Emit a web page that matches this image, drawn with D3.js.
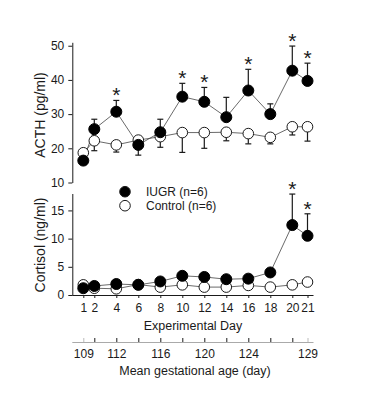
<!DOCTYPE html>
<html><head><meta charset="utf-8">
<script src="https://cdn.jsdelivr.net/npm/d3@7"></script>
<style>
body{margin:0;background:#fff;}
svg{font-family:"Liberation Sans",Arial,sans-serif;}
</style></head>
<body><svg id="c" width="368" height="403"></svg>
<script>
const days = [1,2,4,6,8,10,12,14,16,18,20,21];
const acthIUGR    = [16.4,25.6,30.7,21.0,24.7,35.1,33.6,29.1,36.9,30.0,42.7,39.7];
const acthIUGRerr = [0,2.9,3.3,-3.0,3.8,3.9,4.2,5.8,6.2,3.0,7.2,5.2];
const acthCtrl    = [18.7,22.2,21.0,22.4,23.4,24.6,24.6,24.7,24.3,23.2,26.3,26.3];
const acthCtrlErr = [0,-2.9,-2.1,0,-3.1,-5.8,-4.6,-2.5,-3.0,-1.9,-2.4,-4.2];
const cortIUGR    = [1.2,1.6,1.95,1.8,2.4,3.4,3.2,2.8,2.9,4.0,12.4,10.5];
const cortIUGRerr = [0,0,0,0,0,0,0,0,0,0,5.5,3.9];
const cortCtrl    = [1.8,1.2,1.1,1.85,1.4,1.8,1.4,1.4,1.7,1.4,1.8,2.3];
const acthStars = [4,10,12,16,20,21];
const cortStars = [20,21];
const acthTicks = [10,20,30,40,50];
const cortTicks = [0,5,10,15];
const dayTicks = [1,2,4,6,8,10,12,14,16,18,20,21];
const gaDays = [1,4,8,12,16,21];
const gaLabels = [109,112,116,120,124,129];
const legendItems = ["IUGR (n=6)","Control (n=6)"];

const svg = d3.select("#c");
const x = d3.scaleLinear().domain([0,20,21,21.4]).range([72.3,292.3,307.5,313.5]);
const yA = d3.scaleLinear().domain([10,51]).range([182.5,42.3]);
const yC = d3.scaleLinear().domain([0,18]).range([295,193.5]);
const ink = "#1a1a1a";

function styleAxis(g){
  g.selectAll("path,line").attr("stroke",ink).attr("stroke-width",1);
  g.selectAll("text").attr("fill",ink).style("font-size","12px").style("font-family","Liberation Sans, Arial, sans-serif");
}
// y axes
svg.append("g").attr("transform","translate(72.3,0)")
  .call(d3.axisLeft(yA).tickValues(acthTicks).tickSize(4).tickPadding(4).tickSizeOuter(0)).call(styleAxis);
svg.append("g").attr("transform","translate(72.3,0)")
  .call(d3.axisLeft(yC).tickValues(cortTicks).tickSize(4).tickPadding(4).tickSizeOuter(0)).call(styleAxis);
// x axis (experimental day)
const xa = svg.append("g").attr("transform","translate(0,295)")
  .call(d3.axisBottom(x).tickValues(dayTicks).tickSize(3).tickPadding(5).tickSizeOuter(0)).call(styleAxis);
xa.select(".domain").attr("d",`M${x(0)},0.5H${x(21.4)}`);
// gestational age axis
const gaMap = new Map(gaDays.map((d,i)=>[d,gaLabels[i]]));
const ga = svg.append("g").attr("transform","translate(0,342)")
  .call(d3.axisBottom(x).tickValues(dayTicks).tickSize(-4).tickPadding(7).tickSizeOuter(0)
    .tickFormat(d=>gaMap.has(d)?gaMap.get(d):"")).call(styleAxis);
ga.select(".domain").attr("d",`M${x(0)},0.5H${x(21.4)}`).attr("stroke","#aaa");
ga.selectAll(".tick line").attr("stroke",(d)=> (d===1||d===21)?"#bbb":ink);

// axis titles
svg.append("text").attr("transform","translate(45,115) rotate(-90)").attr("text-anchor","middle")
  .attr("fill",ink).style("font-size","14px").text("ACTH (pg/ml)");
svg.append("text").attr("transform","translate(45,245) rotate(-90)").attr("text-anchor","middle")
  .attr("fill",ink).style("font-size","14px").text("Cortisol (ng/ml)");
svg.append("text").attr("x",193).attr("y",330).attr("text-anchor","middle")
  .attr("fill",ink).style("font-size","12.5px").text("Experimental Day");
svg.append("text").attr("x",195).attr("y",375).attr("text-anchor","middle")
  .attr("fill",ink).style("font-size","12.5px").text("Mean gestational age (day)");

function panel(y, iugr, iugrErr, ctrl, ctrlErr, stars){
  const g = svg.append("g");
  const line = d3.line().x((d,i)=>x(days[i])).y(d=>y(d));
  // error bars
  const eb = (vals, errs, col) => {
    days.forEach((d,i)=>{
      if(!errs[i]) return;
      const y0 = y(vals[i]), y1 = y(vals[i]+errs[i]);
      g.append("line").attr("x1",x(d)).attr("x2",x(d)).attr("y1",y0).attr("y2",y1).attr("stroke",col).attr("stroke-width",1.2);
      g.append("line").attr("x1",x(d)-3).attr("x2",x(d)+3).attr("y1",y1).attr("y2",y1).attr("stroke",col).attr("stroke-width",1.2);
    });
  };
  eb(ctrl, ctrlErr, ink);
  eb(iugr, iugrErr, ink);
  g.append("path").datum(ctrl).attr("d",line).attr("fill","none").attr("stroke","#444").attr("stroke-width",0.8);
  g.append("path").datum(iugr).attr("d",line).attr("fill","none").attr("stroke","#444").attr("stroke-width",0.8);
  g.selectAll(".ci").data(ctrl).join("circle").attr("cx",(d,i)=>x(days[i])).attr("cy",d=>y(d)).attr("r",5.3)
    .attr("fill","#fff").attr("stroke",ink).attr("stroke-width",1);
  g.selectAll(".ii").data(iugr).join("circle").attr("cx",(d,i)=>x(days[i])).attr("cy",d=>y(d)).attr("r",5.5)
    .attr("fill","#000").attr("stroke","#000");
  stars.forEach(s=>{
    const i = days.indexOf(s);
    const top = y(iugr[i] + Math.max(iugrErr[i],0));
    g.append("text").attr("x",x(s)).attr("y",top+2).attr("text-anchor","middle")
      .attr("fill",ink).style("font-size","21px").text("*");
  });
}
panel(yA, acthIUGR, acthIUGRerr, acthCtrl, acthCtrlErr, acthStars);
panel(yC, cortIUGR, cortIUGRerr, cortCtrl, cortCtrl.map(()=>0), cortStars);

// legend
const lg = svg.append("g");
legendItems.forEach((t,i)=>{
  const yy = 191.7 + i*14;
  lg.append("circle").attr("cx",125).attr("cy",yy).attr("r",5.3)
    .attr("fill", i===0?"#000":"#fff").attr("stroke",ink).attr("stroke-width",1);
  lg.append("text").attr("x",146).attr("y",yy+4.3).attr("fill",ink).style("font-size","12px").text(t);
});
</script></body></html>
